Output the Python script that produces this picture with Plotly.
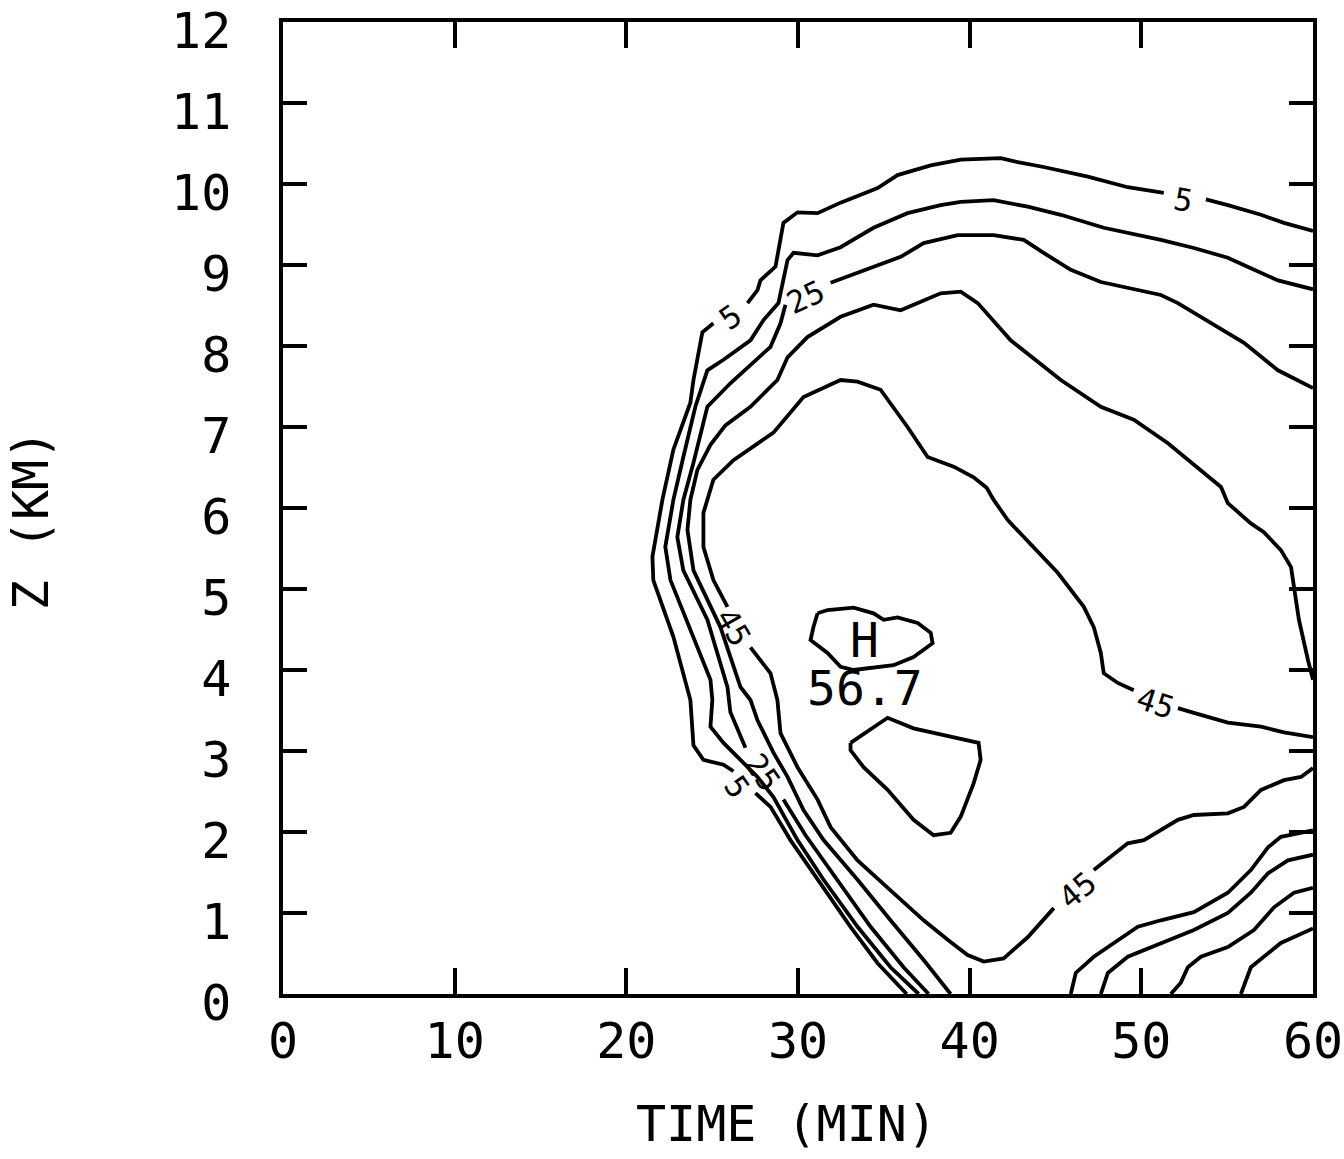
import plotly.graph_objects as go

# ---- contour polylines (time in min, height in km) ----
# None marks a break in a line (where a contour label sits or a new piece starts)
c05_t = [36.33, 34.64, 33.06, 31.14, 29.56, 28.40, 27.52, None,
         26.24, 25.66, 24.49, 23.91, 23.73, 22.74, 21.57, 21.52, 22.10, 22.74, 23.73, 23.91, 24.43, 25.07, None,
         27.06, 27.64, 27.81, 28.69, 29.15, 29.97, 31.14, 32.48, 34.64, 35.80, 37.73, 39.48, 41.81, 42.80, 44.31,
         46.88, 49.21, 51.31, None,
         53.76, 55.04, 56.97, 58.31, 60.0, None,
         55.80, 56.38, 58.13, 60.0]
c05_z = [0.0, 0.38, 0.83, 1.41, 1.90, 2.31, 2.48, None,
         2.75, 2.83, 2.89, 3.07, 3.63, 4.41, 5.11, 5.40, 6.10, 6.72, 7.30, 7.58, 8.17, 8.28, None,
         8.53, 8.69, 8.81, 8.98, 9.52, 9.65, 9.64, 9.77, 9.95, 10.11, 10.23, 10.30, 10.32, 10.27, 10.21,
         10.09, 9.96, 9.89, None,
         9.81, 9.74, 9.62, 9.52, 9.42, None,
         0.0, 0.33, 0.63, 0.81]

c15_t = [37.03, 35.39, 33.47, 31.49, 29.97, 28.57, 27.64, 26.82, 25.66, 24.90, 25.01, 24.90, 23.91, 22.57,
         22.27, 22.74, 23.32, 24.02, 24.72, 25.66, 27.23, 27.99, 28.86, 29.39, 29.74, 31.14, 32.48, 34.40,
         36.38, 38.31, 39.48, 41.40, 43.38, 45.31, 47.81, 51.14, 53.06, 55.04, 56.38, 57.96, 60.0, None,
         51.72, 52.30, 52.71, 53.47, 55.04, 56.56, 57.73, 58.89, 60.0]
c15_z = [0.0, 0.33, 0.83, 1.41, 1.90, 2.43, 2.68, 2.86, 3.10, 3.30, 3.63, 3.88, 4.41, 5.11,
         5.52, 6.10, 6.63, 7.25, 7.70, 7.83, 8.07, 8.32, 8.53, 9.06, 9.15, 9.12, 9.22, 9.46,
         9.64, 9.74, 9.78, 9.80, 9.72, 9.62, 9.46, 9.31, 9.21, 9.09, 8.96, 8.81, 8.70, None,
         0.0, 0.14, 0.33, 0.46, 0.58, 0.79, 1.07, 1.25, 1.31]

c25_t = [37.61, 36.15, 34.23, 32.30, 30.44, 29.15, None,
         26.94, 26.06, 25.89, 24.72, 23.32, 22.97, 23.32, 23.91, 24.72, 26.06, 28.40, 28.98, 29.27, None,
         31.90, 34.40, 35.98, 37.32, 39.30, 41.40, 43.15, 44.31, 45.89, 47.64, 51.14, 52.13, 54.05, 55.98,
         57.96, 60.0, None,
         47.64, 48.05, 49.21, 51.14, 53.06, 55.04, 56.38, 57.38, 58.54, 60.0]
c25_z = [0.0, 0.33, 0.83, 1.41, 1.96, 2.40, None,
         3.04, 3.48, 3.79, 4.62, 5.23, 5.64, 6.10, 6.56, 7.25, 7.54, 7.99, 8.28, 8.51, None,
         8.78, 8.98, 9.10, 9.27, 9.37, 9.37, 9.31, 9.15, 8.94, 8.79, 8.63, 8.53, 8.28, 8.04,
         7.70, 7.48, None,
         0.0, 0.26, 0.46, 0.63, 0.79, 1.00, 1.25, 1.49, 1.65, 1.72]

c35_t = [38.89, 37.32, 35.39, 33.47, 31.49, 30.32, 29.39, 28.57, 27.64, 27.23, 26.65, 25.48, 23.91, 23.56,
         23.73, 24.14, 24.90, 25.77, 27.23, 28.80, 29.39, 30.55, 32.48, 34.40, 35.98, 36.97, 38.31, 39.48,
         40.47, 42.39, 45.31, 47.64, 49.56, 51.55, 53.47, 54.64, 55.04, 56.38, 57.14, 58.13, 58.72, 58.89,
         59.18, 59.71, 60.0, None,
         45.89, 46.18, 47.23, 49.80, 51.14, 53.06, 55.04, 56.38, 57.38, 58.13, 60.0]
c35_z = [0.0, 0.42, 0.91, 1.41, 1.90, 2.27, 2.68, 2.98, 3.38, 3.63, 3.79, 4.53, 5.23, 5.73,
         6.10, 6.47, 6.78, 7.02, 7.25, 7.58, 7.86, 8.11, 8.36, 8.51, 8.44, 8.53, 8.65, 8.67,
         8.53, 8.07, 7.58, 7.25, 7.09, 6.80, 6.47, 6.26, 6.06, 5.81, 5.70, 5.48, 5.27, 5.02,
         4.62, 4.12, 3.88, None,
         0.0, 0.26, 0.46, 0.83, 0.91, 1.01, 1.25, 1.53, 1.81, 1.94, 2.02]

c45_t = [60.0, 58.31, 56.97, 55.04, 53.06, 52.13, None,
         49.56, 48.63, 47.81, 47.64, 47.23, 46.65, 45.13, 43.73, 42.22, 41.40,
         40.99, 40.23, 39.07, 37.55, 36.38, 34.81, 33.47, 32.48, 30.32, 28.57, 26.24, 25.07, 24.72, 24.49,
         24.49, 25.07, 25.89, None,
         27.23, 28.40, 28.80, 28.98, 29.97, 31.14, 31.90, 33.47, 35.39, 37.32, 38.72, 39.88, 40.82, 41.98,
         43.38, 44.90, None,
         47.23, 49.21, 50.15, 52.13, 53.06, 55.04, 55.98, 56.97, 58.31, 59.30, 60.0]
c45_z = [3.17, 3.23, 3.30, 3.35, 3.47, 3.53, None,
         3.75, 3.84, 3.96, 4.21, 4.53, 4.78, 5.20, 5.52, 5.85, 6.10,
         6.25, 6.38, 6.51, 6.63, 7.00, 7.46, 7.56, 7.58, 7.37, 6.93, 6.59, 6.35, 6.10, 5.94,
         5.52, 5.11, 4.78, None,
         4.28, 3.96, 3.63, 3.22, 2.80, 2.40, 2.06, 1.65, 1.28, 0.91, 0.67, 0.48, 0.40, 0.44,
         0.70, 1.06, None,
         1.53, 1.86, 1.90, 2.15, 2.21, 2.23, 2.31, 2.52, 2.64, 2.68, 2.79]

c55_t = [31.14, 31.72, 33.24, 34.40, 34.99, 35.80, 36.97, 37.73, 37.84, 36.73, 35.57, 33.24, 32.48, 31.72,
         30.73, 30.90, 31.14, None,
         33.06, 35.22, 36.73, 38.31, 40.52, 40.64, 40.23, 39.48, 38.89, 37.90, 36.73, 35.22, 33.82, 33.06,
         33.06]
c55_z = [4.70, 4.74, 4.77, 4.70, 4.62, 4.65, 4.58, 4.46, 4.33, 4.16, 4.06, 4.00, 4.04, 4.21,
         4.37, 4.53, 4.70, None,
         3.10, 3.41, 3.28, 3.20, 3.10, 2.89, 2.60, 2.19, 1.99, 1.96, 2.15, 2.52, 2.80, 3.01,
         3.10]

# contour labels
label_text = ["5", "25", "5", "5", "25", "45", "45", "45"]
label_t = [26.06, 30.44, 52.48, 26.47, 27.93, 26.24, 50.85, 46.30]
label_z = [8.36, 8.60, 9.80, 2.56, 2.74, 4.53, 3.59, 1.28]

# maximum marker
max_label = "H"
max_value = "56.7"
max_t = 33.9
max_z = 4.37
max_value_z = 3.78

x_ticks = [0, 10, 20, 30, 40, 50, 60]
y_ticks = list(range(0, 13))

# ---- styles ----
FONT = "DejaVu Sans Mono"
label_angles = [-35, -25, 10, 55, 55, 60, 18, -40]

fig = go.Figure()
for tt, zz in [(c05_t, c05_z), (c15_t, c15_z), (c25_t, c25_z), (c35_t, c35_z),
               (c45_t, c45_z), (c55_t, c55_z)]:
    fig.add_trace(go.Scatter(x=tt, y=zz, mode="lines", connectgaps=False,
                             line=dict(color="black", width=3.8), hoverinfo="skip",
                             showlegend=False))

for txt, tt, zz, ang in zip(label_text, label_t, label_z, label_angles):
    fig.add_annotation(x=tt, y=zz, text=txt, showarrow=False, textangle=ang,
                       font=dict(family=FONT, size=31, color="black"))

fig.add_annotation(x=max_t, y=max_z, text=max_label, showarrow=False,
                   font=dict(family=FONT, size=48, color="black"))
fig.add_annotation(x=max_t, y=max_value_z, text=max_value, showarrow=False,
                   font=dict(family=FONT, size=48, color="black"))

# axis titles
fig.add_annotation(xref="paper", yref="paper", x=0.489, y=-0.134, text="TIME (MIN)",
                   showarrow=False, xanchor="center", yanchor="middle",
                   font=dict(family=FONT, size=50, color="black"))
fig.add_annotation(xref="paper", yref="paper", x=-0.245, y=0.488, text="Z (KM)",
                   showarrow=False, textangle=-90, xanchor="center", yanchor="middle",
                   font=dict(family=FONT, size=50, color="black"))

axis_common = dict(showgrid=False, zeroline=False, showline=True, linecolor="black",
                   linewidth=3.5, mirror="ticks", ticks="inside", tickwidth=3.5,
                   tickcolor="black", automargin=False, ticklabeloverflow="allow",
                   tickfont=dict(family=FONT, size=50, color="black"))

fig.update_xaxes(range=[0, 60], tickvals=x_ticks, ticktext=[str(v) for v in x_ticks],
                 ticklen=26, ticklabelstandoff=0, **axis_common)
fig.update_yaxes(range=[0, 12], tickvals=y_ticks, ticktext=[str(v) for v in y_ticks],
                 ticklen=24, ticklabelstandoff=38, ticklabelshift=8, **axis_common)

fig.update_layout(width=1344, height=1159, paper_bgcolor="white", plot_bgcolor="white",
                  margin=dict(l=283, r=31, t=22, b=165), showlegend=False)

fig.write_html("out.html")
